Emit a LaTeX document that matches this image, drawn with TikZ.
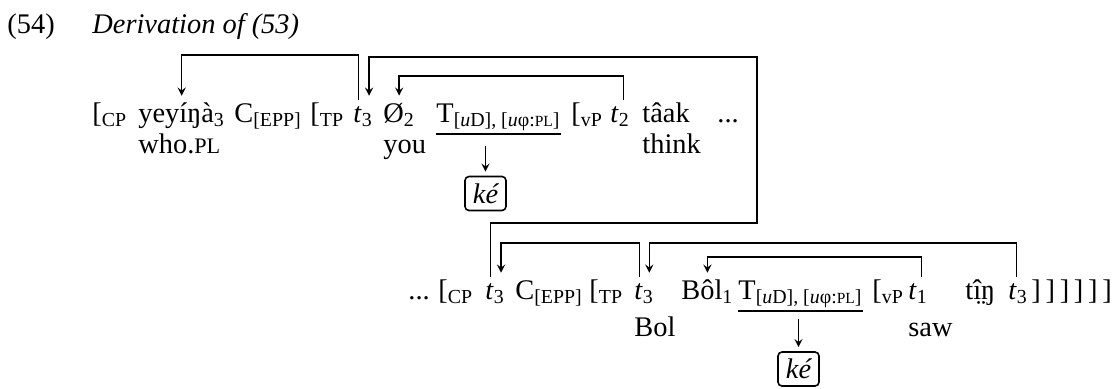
\documentclass[tikz,border=0pt]{standalone}
\usepackage{fontspec}
\setmainfont{Liberation Serif}
\newfontfamily\pcfont[Scale=0.78]{Liberation Serif}
\usetikzlibrary{positioning}

\newcommand{\lb}[1]{[\textsubscript{#1}}
\newcommand{\tr}[1]{\textit{t}\textsubscript{#1}}
\newcommand{\glsc}[1]{{\pcfont #1}}
\newcommand{\Tfeat}{T\textsubscript{[\textit{u}D], [\textit{u}φ:\glsc{PL}]}}
\AtBeginDocument{\fontsize{14.2}{17}\selectfont}

\begin{document}
\begin{tikzpicture}[x=0.5pt, y=-0.5pt]
		% 定义样式
		\tikzstyle{word} = [anchor=base west, inner xsep=0pt, inner ysep=1pt, text height=0.7em]
		\tikzstyle{feat} = [word, inner ysep=1.5pt]
		\tikzstyle{agree} = [draw, thick, rounded corners=2pt, minimum width=20.5pt, minimum height=17pt, inner sep=0pt, font=\itshape]
		\tikzstyle{arrow} = [thick,->,>=stealth,shorten >=2pt]
		\tikzstyle{uline} = [thick]
		
		\useasboundingbox (0,0) rectangle (1113,388);
		
		% 箭头走线的高度
		\coordinate (r1) at (0,55);
		\coordinate (r2) at (0,57);
		\coordinate (r3) at (0,76);
		\coordinate (r4) at (0,223);
		\coordinate (r5) at (0,243);
		\coordinate (r6) at (0,257);
		\coordinate (col) at (757,0);
		
		% 编号与标题
		\node [word] (num) at (7,33) {(54)};
		\node [word, font=\itshape] (title) at (92,33) {Derivation of (53)};
		
		% 第一行
		\node [word] (cp1) at (92,122) {\lb{CP}};
		\node [word] (yey) at (138,122) {yeyíŋà\textsubscript{3}};
		\node [word] (c1) at (234,122) {C\textsubscript{[EPP]}};
		\node [word] (tp1) at (310,122) {\lb{TP}};
		\node [word] (t3a) at (353,122) {\tr{3}};
		\node [word] (pro) at (383,122) {Ø\textsubscript{2}};
		\node [feat] (T1) at (436,122) {\Tfeat};
		\node [word] (vp1) at (571,122) {\lb{vP}};
		\node [word] (t2) at (610,122) {\tr{2}};
		\node [word] (taak) at (642,122) {tâak};
		\node [word] (dots1) at (717,122) {...};
		\node [below=15.5pt of yey.base west, word] (gyey) {who.\glsc{PL}};
		\node [below=15.5pt of pro.base west, word] (gpro) {you};
		\node [below=15.5pt of taak.base west, word] (gtaak) {think};
		\node [agree] (ke1) at (485.5,193.5) {ké};
		
		% 第二行
		\node [word] (dots2) at (408,299) {...};
		\node [word] (cp2) at (438,299) {\lb{CP}};
		\node [word] (t3c) at (485,299) {\tr{3}};
		\node [word] (c2) at (515,299) {C\textsubscript{[EPP]}};
		\node [word] (tp2) at (589,299) {\lb{TP}};
		\node [word] (t3d) at (634,299) {\tr{3}};
		\node [word] (bol) at (681,299) {Bôl\textsubscript{1}};
		\node [feat] (T2) at (738,299) {\Tfeat};
		\node [word] (vp2) at (872,299) {\lb{vP}};
		\node [word] (t1) at (908,299) {\tr{1}};
		\node [word] (tin) at (965,299) {tî̤ŋ};
		\node [word] (t3f) at (1008,299) {\tr{3}};
		\node [word] (brk) at (1031,299) {]\,]\,]\,]\,]\,]};
		\node [below=18.5pt of t3d.base west, word] (gbol) {Bol};
		\node [below=18.5pt of t1.base west, word] (gtin) {saw};
		\node [agree] (ke2) at (798.5,369) {ké};
		
		% 下划线与一致
		\draw [uline] (T1.south west) -- (T1.south east);
		\draw [uline] (T2.south west) -- (T2.south east);
		\draw [arrow, shorten <=6pt] (T1.south -| ke1.north) -- (ke1.north);
		\draw [arrow, shorten <=4pt] (T2.south -| ke2.north) -- (ke2.north);
		
		% 移位箭头
		\draw [arrow] ([xshift=-2.4pt]t3a.north) |- (yey.north |- r1) -- (yey.north);
		\draw [arrow] ([xshift=-2.4pt]t3c.north) |- (col |- r4) |- ([xshift=3pt]t3a.north |- r2) -- ([xshift=3pt]t3a.north);
		\draw [arrow] ([xshift=1.6pt]t2.north) |- (pro.north |- r3) -- (pro.north);
		\draw [arrow] ([xshift=-2.4pt]t3d.north) |- ([xshift=3pt]t3c.north |- r5) -- ([xshift=3pt]t3c.north);
		\draw [arrow] ([xshift=-0.9pt]t3f.north) |- ([xshift=2.6pt]t3d.north |- r5) -- ([xshift=2.6pt]t3d.north);
		\draw [arrow] ([xshift=1.6pt]t1.north) |- (bol.north |- r6) -- (bol.north);
		\end{tikzpicture}
\end{document}
